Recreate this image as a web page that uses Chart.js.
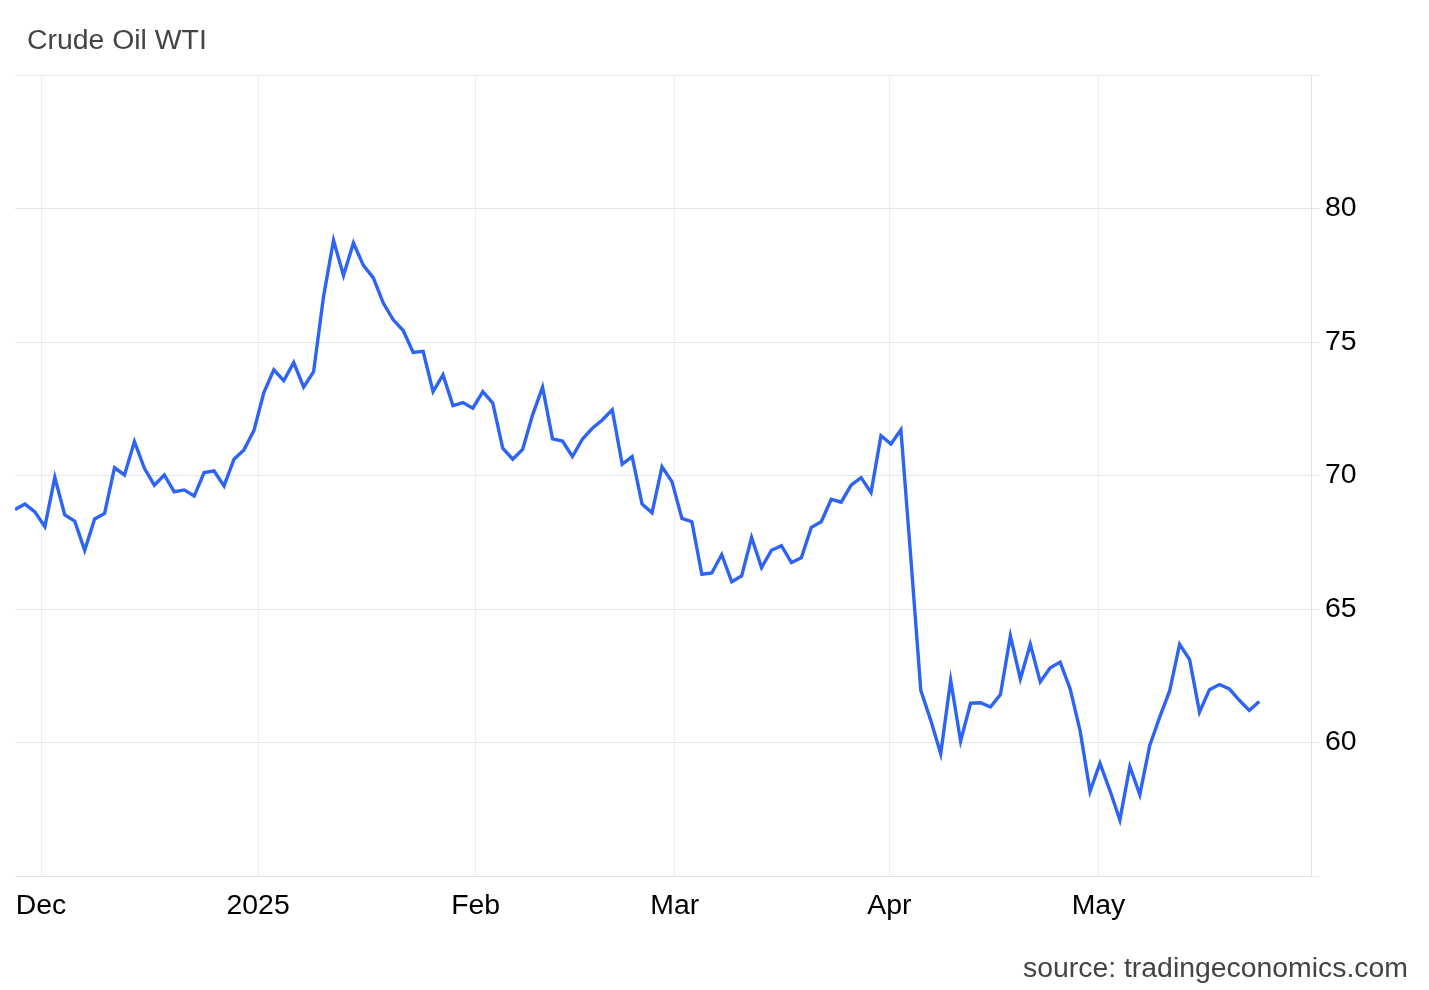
<!DOCTYPE html>
<html>
<head>
<meta charset="utf-8">
<title>Crude Oil WTI</title>
<script src="https://cdn.jsdelivr.net/npm/chart.js@4.4.1/dist/chart.umd.min.js"></script>
<style>

    html, body {
        margin: 0;
        padding: 0;
        background: #ffffff;
    }

    #wrap {
        position: relative;
        width: 1429px;
        height: 990px;
        font-family: "Liberation Sans", Arial, sans-serif;
    }

    #chart {
        position: absolute;
        left: 0;
        top: 0;
    }

    .caption {
        position: absolute;
        font-size: 28.4px;
        line-height: 28px;
        color: #444444;
        white-space: nowrap;
    }

    #title {
        left: 27px;
        top: 25px;
    }

    #source {
        right: 21px;
        top: 953px;
    }

</style>
</head>
<body>

<div id="wrap">
    <canvas id="chart" width="1429" height="990"></canvas>
    <div class="caption" id="title">Crude Oil WTI</div>
    <div class="caption" id="source">source: tradingeconomics.com</div>
</div>

<script>

/* WTI daily closes, one per trading day */

const dates = [
    "2024-11-26", "2024-11-27", "2024-11-29",
    "2024-12-02", "2024-12-03", "2024-12-04", "2024-12-05", "2024-12-06",
    "2024-12-09", "2024-12-10", "2024-12-11", "2024-12-12", "2024-12-13",
    "2024-12-16", "2024-12-17", "2024-12-18", "2024-12-19", "2024-12-20",
    "2024-12-23", "2024-12-24", "2024-12-25", "2024-12-26", "2024-12-27",
    "2024-12-30", "2024-12-31",
    "2025-01-02", "2025-01-03",
    "2025-01-06", "2025-01-07", "2025-01-08", "2025-01-09", "2025-01-10",
    "2025-01-13", "2025-01-14", "2025-01-15", "2025-01-16", "2025-01-17",
    "2025-01-20", "2025-01-21", "2025-01-22", "2025-01-23", "2025-01-24",
    "2025-01-27", "2025-01-28", "2025-01-29", "2025-01-30", "2025-01-31",
    "2025-02-03", "2025-02-04", "2025-02-05", "2025-02-06", "2025-02-07",
    "2025-02-10", "2025-02-11", "2025-02-12", "2025-02-13", "2025-02-14",
    "2025-02-17", "2025-02-18", "2025-02-19", "2025-02-20", "2025-02-21",
    "2025-02-24", "2025-02-25", "2025-02-26", "2025-02-27", "2025-02-28",
    "2025-03-03", "2025-03-04", "2025-03-05", "2025-03-06", "2025-03-07",
    "2025-03-10", "2025-03-11", "2025-03-12", "2025-03-13", "2025-03-14",
    "2025-03-17", "2025-03-18", "2025-03-19", "2025-03-20", "2025-03-21",
    "2025-03-24", "2025-03-25", "2025-03-26", "2025-03-27", "2025-03-28",
    "2025-03-31",
    "2025-04-01", "2025-04-02", "2025-04-03", "2025-04-04",
    "2025-04-07", "2025-04-08", "2025-04-09", "2025-04-10", "2025-04-11",
    "2025-04-14", "2025-04-15", "2025-04-16", "2025-04-17",
    "2025-04-21", "2025-04-22", "2025-04-23", "2025-04-24", "2025-04-25",
    "2025-04-28", "2025-04-29", "2025-04-30",
    "2025-05-01", "2025-05-02",
    "2025-05-05", "2025-05-06", "2025-05-07", "2025-05-08", "2025-05-09",
    "2025-05-12", "2025-05-13", "2025-05-14", "2025-05-15", "2025-05-16",
    "2025-05-19", "2025-05-20", "2025-05-21", "2025-05-22", "2025-05-23"
];

const prices = [
    68.73, 68.93, 68.64, 68.08, 69.93, 68.52, 68.29, 67.20, 68.37, 68.58,
    70.29, 70.02, 71.27, 70.27, 69.64, 70.02, 69.39, 69.46, 69.23, 70.11,
    70.17, 69.61, 70.61, 70.96, 71.68, 73.11, 73.96, 73.55, 74.23, 73.31,
    73.89, 76.71, 78.81, 77.49, 78.71, 77.87, 77.40, 76.46, 75.83, 75.43,
    74.61, 74.65, 73.14, 73.77, 72.62, 72.73, 72.52, 73.14, 72.71, 71.02,
    70.61, 70.98, 72.27, 73.31, 71.37, 71.29, 70.71, 71.36, 71.77, 72.08,
    72.46, 70.42, 70.71, 68.93, 68.60, 70.33, 69.77, 68.39, 68.27, 66.30,
    66.35, 67.04, 66.02, 66.24, 67.68, 66.55, 67.20, 67.37, 66.74, 66.92,
    68.06, 68.27, 69.11, 69.00, 69.64, 69.92, 69.36, 71.49, 71.18, 71.71,
    66.90, 61.95, 60.83, 59.58, 62.33, 60.05, 61.47, 61.49, 61.33, 61.80,
    63.99, 62.38, 63.68, 62.27, 62.80, 63.01, 62.01, 60.45, 58.17, 59.22,
    58.20, 57.10, 59.10, 58.05, 59.89, 60.95, 61.93, 63.68, 63.11, 61.14,
    61.98, 62.17, 62.01, 61.58, 61.20, 61.54
];

const monthStarts = ["2024-12-01", "2025-01-01", "2025-02-01", "2025-03-01", "2025-04-01", "2025-05-01"];

const monthLabels = ["Dec", "2025", "Feb", "Mar", "Apr", "May"];

const yTicks = [55, 60, 65, 70, 75, 80, 85];

const DAY = 86400000;

// closes sit a bit after midnight, so month lines fall just before the first session
const closeOffset = 0.15;

// x axis runs on trading-day index; the month line goes where the calendar crosses it
function monthPosition(day) {

    const t = Date.parse(day);

    for (let i = 0; i < dates.length - 1; i++) {

        const a = Date.parse(dates[i]);
        const b = Date.parse(dates[i + 1]);

        if (t > a && t <= b) {

            return i + ((t - a) / DAY - closeOffset) / ((b - a) / DAY);

        }

    }

    return 0;

}

const monthTicks = monthStarts.map(monthPosition);

const points = prices.map((p, i) => ({ x: i, y: p }));

const tickFont = {
    family: "'Liberation Sans', Arial, sans-serif",
    size: 28.4
};

new Chart(document.getElementById("chart"), {

    type: "line",

    data: {

        datasets: [

            {
                label: "Crude Oil WTI",
                data: points,
                borderColor: "#2d64f4",
                borderWidth: 3.4,
                pointRadius: 0,
                tension: 0,
                fill: false
            }

        ]

    },

    options: {

        responsive: false,
        animation: false,
        events: [],

        layout: {
            padding: { left: 15, top: 75, right: 0, bottom: 0 }
        },

        plugins: {
            legend: { display: false },
            tooltip: { enabled: false },
            title: { display: false }
        },

        scales: {

            x: {
                type: "linear",
                min: 0,
                max: 130.2,
                afterBuildTicks(scale) {
                    scale.ticks = monthTicks.map(v => ({ value: v }));
                },
                afterFit(scale) {
                    scale.height = 114;
                },
                grid: {
                    color: "#eaeff6",
                    lineWidth: 1,
                    drawTicks: false
                },
                border: {
                    display: true,
                    color: "#e3e3e3"
                },
                ticks: {
                    autoSkip: false,
                    maxRotation: 0,
                    padding: 13,
                    color: "#000000",
                    font: tickFont,
                    callback(value, index) {
                        return monthLabels[index];
                    }
                }
            },

            y: {
                position: "right",
                min: 55,
                max: 85,
                afterBuildTicks(scale) {
                    scale.ticks = yTicks.map(v => ({ value: v }));
                },
                afterFit(scale) {
                    scale.width = 118;
                },
                grid: {
                    color: "#e6e6e6",
                    lineWidth: 1,
                    drawTicks: true,
                    tickLength: 8
                },
                border: {
                    display: true,
                    color: "#e3e3e3"
                },
                ticks: {
                    padding: 6,
                    color: "#000000",
                    font: tickFont,
                    callback(value) {
                        return (value === 55 || value === 85) ? "" : value;
                    }
                }
            }

        }

    }

});

</script>
</body>
</html>
